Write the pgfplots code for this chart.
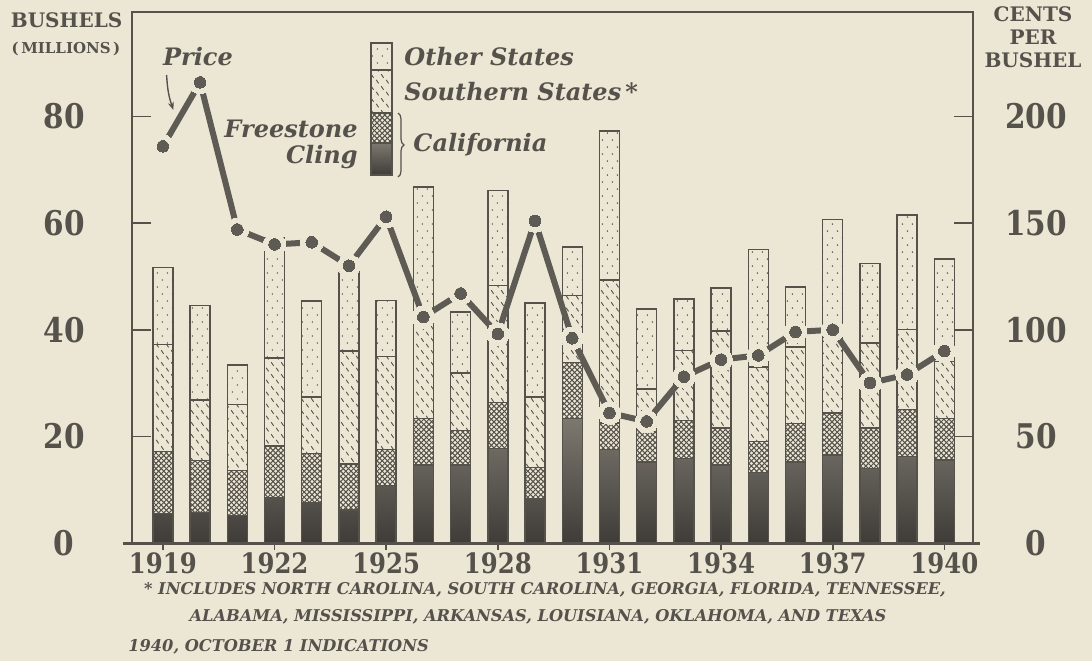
\documentclass[border=0pt]{standalone}
\usepackage{fontspec}
\usepackage{pgfplots}
\usepackage{pgfplotstable}
\pgfplotsset{compat=1.18}
\usetikzlibrary{patterns,arrows.meta,decorations.pathreplacing}
\definecolor{bg}{HTML}{ECE7D5}
\definecolor{ink}{HTML}{55514B}
\definecolor{inkline}{HTML}{5E5A54}
\definecolor{inkdark}{HTML}{3F3C38}
\definecolor{inklight}{HTML}{7D786F}
\newfontfamily\numfont[FakeStretch=0.87]{DejaVu Serif}
\newfontfamily\serif{DejaVu Serif}

\pgfdeclarepatternformonly{sdots}{\pgfpoint{-0.5pt}{-0.5pt}}{\pgfpoint{5.5pt}{7.5pt}}{\pgfpoint{5pt}{7pt}}{%
 \pgfpathcircle{\pgfpoint{1.2pt}{1.5pt}}{0.42pt}%
 \pgfpathcircle{\pgfpoint{3.7pt}{5pt}}{0.42pt}%
 \pgfusepath{fill}}
\pgfdeclarepatternformonly{sstrokes}{\pgfpoint{-0.5pt}{-0.5pt}}{\pgfpoint{5.5pt}{6.5pt}}{\pgfpoint{5pt}{6pt}}{%
 \pgfsetlinewidth{0.45pt}%
 \pgfpathmoveto{\pgfpoint{0.6pt}{5.4pt}}\pgfpathlineto{\pgfpoint{1.8pt}{3.6pt}}%
 \pgfpathmoveto{\pgfpoint{3.1pt}{2.6pt}}\pgfpathlineto{\pgfpoint{4.3pt}{0.8pt}}%
 \pgfusepath{stroke}}
\pgfdeclarepatternformonly{xhatch}{\pgfpoint{-1pt}{-1pt}}{\pgfpoint{3.6pt}{3.6pt}}{\pgfpoint{2.6pt}{2.6pt}}{%
 \pgfsetlinewidth{0.5pt}%
 \pgfpathmoveto{\pgfpoint{0pt}{0pt}}\pgfpathlineto{\pgfpoint{2.6pt}{2.6pt}}%
 \pgfpathmoveto{\pgfpoint{0pt}{2.6pt}}\pgfpathlineto{\pgfpoint{2.6pt}{0pt}}%
 \pgfusepath{stroke}}

\pgfplotstableread{
year cling free south other price
1919 5.5 11.7 20.0 14.5 186
1920 5.7 9.8 11.3 17.8 216
1921 5.2 8.4 12.4 7.4 147
1922 8.5 9.7 16.5 22.6 140
1923 7.6 9.2 10.6 18.0 141
1924 6.2 8.6 21.2 16.5 130
1925 10.8 6.7 17.5 10.5 153
1926 14.6 8.8 20.2 23.2 106
1927 14.6 6.5 10.8 11.4 117
1928 17.7 8.7 21.9 17.8 98
1929 8.3 5.9 13.2 17.6 151
1930 23.3 10.6 12.5 9.1 96
1931 17.5 5.0 26.8 28.0 61
1932 15.2 6.6 7.1 15.0 57
1933 15.8 7.2 13.1 9.7 78
1934 14.6 7.0 18.2 8.0 86
1935 13.2 5.8 14.0 22.0 88
1936 15.2 7.2 14.4 11.2 99
1937 16.5 7.9 14.1 22.2 100
1938 14.0 7.6 15.9 14.9 75
1939 16.2 8.8 15.0 21.5 79
1940 15.6 7.8 10.6 19.3 90
}\data

\begin{document}
\begin{tikzpicture}
\useasboundingbox (-66pt,-59pt) rectangle (480pt,271.5pt);
\fill[bg] (-66pt,-59pt) rectangle (480pt,271.5pt);

\begin{axis}[
  at={(0,0)}, anchor=south west, scale only axis,
  width=420.5pt, height=265.5pt,
  xmin=1918.17, xmax=1940.77, ymin=0, ymax=99.6,
  ybar stacked, bar width=10pt,
  axis line style={draw=ink, line width=0.8pt},
  ytick={0,20,40,60,80}, ytick pos=left,
  tick align=inside, major tick length=9.5pt,
  ytick style={draw=ink, line width=0.8pt},
  xtick={1919,1922,1925,1928,1931,1934,1937,1940}, xtick pos=bottom,
  xtick style={draw=none},
  /pgf/number format/1000 sep={},
  /pgf/number format/assume math mode=true,
  xticklabel style={font=\numfont\bfseries\fontsize{14}{14}\selectfont, text=ink, yshift=-1.3pt},
  yticklabel style={font=\numfont\bfseries\fontsize{17}{17}\selectfont, text=ink, anchor=center, xshift=-34pt},
]
\addplot[draw=ink, line width=0.7pt, bottom color=inkdark, top color=inklight] table[x=year,y=cling]{\data};
\addplot[draw=ink, line width=0.7pt, pattern=xhatch, pattern color=ink] table[x=year,y=free]{\data};
\addplot[draw=ink, line width=0.7pt, pattern=sstrokes, pattern color=ink] table[x=year,y=south]{\data};
\addplot[draw=ink, line width=0.7pt, pattern=sdots, pattern color=ink] table[x=year,y=other]{\data};
\end{axis}

\begin{axis}[
  at={(0,0)}, anchor=south west, scale only axis,
  width=420.5pt, height=265.5pt,
  xmin=1918.17, xmax=1940.77, ymin=0, ymax=249,
  hide x axis, axis y line*=right, y axis line style={draw=none},
  ytick={0,50,100,150,200},
  tick align=inside, major tick length=9.5pt,
  ytick style={draw=ink, line width=0.8pt},
  /pgf/number format/assume math mode=true,
  yticklabel style={font=\numfont\bfseries\fontsize{17}{17}\selectfont, text=ink, anchor=center, xshift=31.5pt},
]
\addplot[inkline, line width=3pt] table[x=year,y=price]{\data};
\addplot[only marks, mark=*, mark size=5.7pt, mark options={fill=bg, draw=bg, line width=0pt}] table[x=year,y=price]{\data};
\addplot[only marks, mark=*, mark size=2.9pt, mark options={fill=inkline, draw=inkline, line width=0pt}] table[x=year,y=price]{\data};
\end{axis}

\begin{axis}[
  at={(0,0)}, anchor=south west, scale only axis,
  width=420.5pt, height=265.5pt,
  xmin=1918.17, xmax=1940.77, ymin=0, ymax=1,
  hide y axis, axis x line*=bottom, x axis line style={draw=none},
  xtick={1919,1922,1925,1928,1931,1934,1937,1940}, xticklabels={},
  tick align=outside, major tick length=3.5pt,
  xtick style={draw=ink, line width=0.8pt},
]
\end{axis}

\draw[ink, line width=1.5pt] (-4.5pt,0pt) -- (424pt,0pt);

% axis titles
\node[text=ink, font=\serif\bfseries\fontsize{10}{12}\selectfont] at (-32.7pt,261.3pt) {BUSHELS};
\node[text=ink, font=\serif\bfseries\fontsize{7.5}{9}\selectfont] at (-33pt,247pt) {(\,MILLIONS\,)};
\node[text=ink, font=\serif\bfseries\fontsize{10}{12}\selectfont] at (450.5pt,264.5pt) {CENTS};
\node[text=ink, font=\serif\bfseries\fontsize{10}{12}\selectfont] at (450.5pt,252.75pt) {PER};
\node[text=ink, font=\serif\bfseries\fontsize{10}{12}\selectfont] at (450.5pt,241.5pt) {BUSHEL};

% price label
\node[text=ink, inner sep=0pt, anchor=base, font=\serif\bfseries\itshape\fontsize{12}{14}\selectfont] at (33pt,239pt) {Price};
\draw[ink, line width=0.7pt, -{Stealth[length=4pt,width=3pt]}] (17.3pt,234pt) to[bend right=8] (20.7pt,216.5pt);

% legend key
\draw[draw=ink, line width=0.7pt, bottom color=inkdark, top color=inklight] (119.5pt,184pt) rectangle (130pt,200pt);
\draw[draw=ink, line width=0.7pt, pattern=xhatch, pattern color=ink] (119.5pt,200pt) rectangle (130pt,215pt);
\draw[draw=ink, line width=0.7pt, pattern=sstrokes, pattern color=ink] (119.5pt,215pt) rectangle (130pt,236.5pt);
\draw[draw=ink, line width=0.7pt, pattern=sdots, pattern color=ink] (119.5pt,236.5pt) rectangle (130pt,250pt);
\draw[ink, line width=0.6pt, decorate, decoration={brace, amplitude=3pt}] (133pt,215pt) -- (133pt,183pt);

\begin{scope}[every node/.style={text=ink, inner sep=0pt, font=\serif\bfseries\itshape\fontsize{12}{14}\selectfont}]
\node[anchor=base west] at (136pt,239pt) {Other States};
\node[anchor=base west] at (136pt,221.5pt) {Southern States\,*};
\node[anchor=base west] at (140.5pt,196pt) {California};
\node[anchor=base east] at (113pt,203pt) {Freestone};
\node[anchor=base east] at (113pt,190pt) {Cling};
\end{scope}

% footnotes
\begin{scope}[every node/.style={text=ink, inner sep=0pt, font=\serif\bfseries\itshape\fontsize{8.1}{10}\selectfont}]
\node at (206.5pt,-23.5pt) {* INCLUDES NORTH CAROLINA, SOUTH CAROLINA, GEORGIA, FLORIDA, TENNESSEE,};
\node at (203pt,-37pt) {ALABAMA, MISSISSIPPI, ARKANSAS, LOUISIANA, OKLAHOMA, AND TEXAS};
\node[anchor=west] at (-2pt,-52pt) {1940, OCTOBER 1 INDICATIONS};
\end{scope}
\end{tikzpicture}
\end{document}
